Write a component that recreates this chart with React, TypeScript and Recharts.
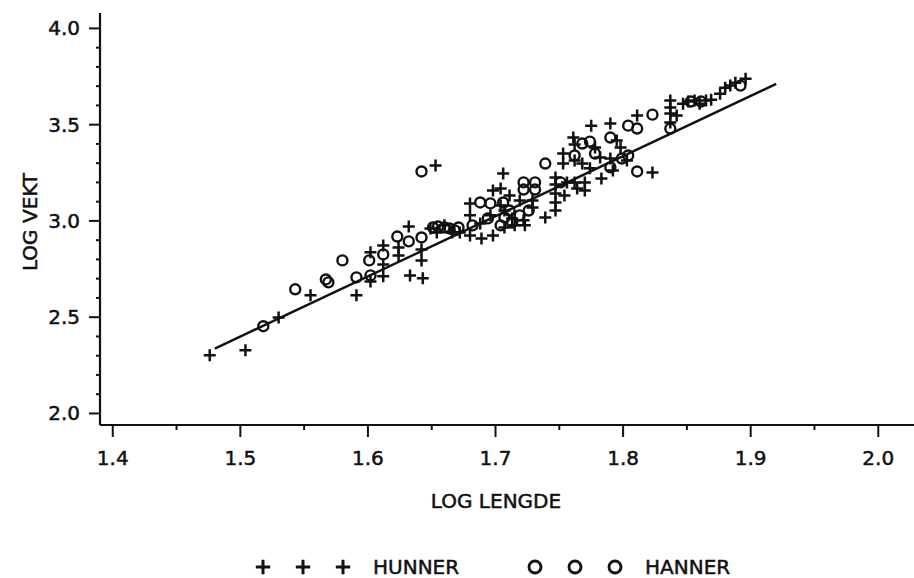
import { ScatterChart, Scatter, XAxis, YAxis, Legend } from "recharts";

// log length / log weight, males (HUNNER) and females (HANNER)
const hunnerLengde = [
  1.476, 1.504, 1.53, 1.555, 1.591, 1.602, 1.602, 1.612, 1.612, 1.612,
  1.624, 1.624, 1.632, 1.633, 1.643, 1.642, 1.642, 1.653, 1.654, 1.672,
  1.68, 1.68, 1.68, 1.688, 1.689, 1.698, 1.698, 1.704, 1.707, 1.706,
  1.711, 1.715, 1.723, 1.729, 1.739, 1.747, 1.747, 1.747, 1.747, 1.747,
  1.754, 1.756, 1.762, 1.77, 1.764, 1.77, 1.753, 1.753, 1.761, 1.762,
  1.762, 1.768, 1.775, 1.79, 1.778, 1.782, 1.79, 1.792, 1.783, 1.795,
  1.798, 1.811, 1.823, 1.837, 1.837, 1.837, 1.842, 1.837, 1.847, 1.851,
  1.856, 1.86, 1.865, 1.869, 1.876, 1.88, 1.884, 1.888, 1.896, 1.719,
  1.707, 1.713, 1.66, 1.666, 1.696, 1.803, 1.774, 1.649, 1.722, 1.729,
  1.704,
];
const hunnerVekt = [
  2.302, 2.328, 2.499, 2.614, 2.614, 2.837, 2.686, 2.873, 2.774, 2.712,
  2.862, 2.821, 2.971, 2.717, 2.702, 2.852, 2.795, 3.288, 2.94, 2.94,
  3.091, 3.029, 2.924, 2.987, 2.909, 3.158, 2.924, 3.168, 2.966, 3.246,
  3.132, 2.977, 2.977, 3.07, 3.018, 3.226, 3.189, 3.143, 3.096, 3.054,
  3.132, 3.2, 3.2, 3.2, 3.168, 3.158, 3.35, 3.298, 3.433, 3.397,
  3.314, 3.298, 3.495, 3.506, 3.381, 3.329, 3.324, 3.262, 3.22, 3.418,
  3.381, 3.547, 3.252, 3.625, 3.589, 3.558, 3.547, 3.511, 3.609, 3.62,
  3.625, 3.609, 3.625, 3.63, 3.661, 3.692, 3.703, 3.718, 3.739, 3.106,
  3.054, 3.013, 2.977, 2.94, 3.029, 3.314, 3.273, 2.961, 3.003, 3.106,
  3.08,
];

const hannerLengde = [
  1.518, 1.543, 1.567, 1.569, 1.58, 1.591, 1.601, 1.602, 1.612, 1.623,
  1.632, 1.642, 1.642, 1.651, 1.66, 1.671, 1.682, 1.688, 1.696, 1.706,
  1.707, 1.704, 1.722, 1.731, 1.722, 1.731, 1.739, 1.751, 1.762, 1.768,
  1.774, 1.778, 1.79, 1.79, 1.799, 1.804, 1.811, 1.804, 1.811, 1.823,
  1.837, 1.861, 1.892, 1.853, 1.711, 1.719, 1.668, 1.655, 1.664, 1.726,
  1.713, 1.694,
];
const hannerVekt = [
  2.453, 2.645, 2.696, 2.681, 2.795, 2.707, 2.795, 2.717, 2.826, 2.919,
  2.894, 2.914, 3.257, 2.966, 2.966, 2.966, 2.977, 3.096, 3.091, 3.096,
  3.018, 2.977, 3.2, 3.2, 3.163, 3.163, 3.298, 3.2, 3.34, 3.402,
  3.412, 3.35, 3.433, 3.278, 3.324, 3.34, 3.257, 3.495, 3.48, 3.552,
  3.48, 3.62, 3.703, 3.62, 3.054, 3.029, 2.951, 2.971, 2.961, 3.054,
  2.992, 3.013,
];

// regression line end points
const fitLengde = [1.48, 1.92];
const fitVekt = [2.337, 3.712];

const seriesNames = ["HUNNER", "HANNER"];

const xTicks = [1.4, 1.45, 1.5, 1.55, 1.6, 1.65, 1.7, 1.75, 1.8, 1.85, 1.9, 1.95, 2.0];
const yTicks = [
  2.0, 2.1, 2.2, 2.3, 2.4, 2.5, 2.6, 2.7, 2.8, 2.9, 3.0,
  3.1, 3.2, 3.3, 3.4, 3.5, 3.6, 3.7, 3.8, 3.9, 4.0,
];

const zip = (xs: number[], ys: number[]) => xs.map((x, i) => ({ x, y: ys[i] }));
const hunner = zip(hunnerLengde, hunnerVekt);
const hanner = zip(hannerLengde, hannerVekt);
const fit = zip(fitLengde, fitVekt);

const FONT = "'DejaVu Sans', Verdana, sans-serif";
const INK = "#111";
const textStyle = { fontFamily: FONT, fontSize: 20, fill: INK, stroke: INK, strokeWidth: 0.5 };

const isStep = (v: number, step: number) =>
  Math.abs(v / step - Math.round(v / step)) < 1e-6;

function XTick({ x, y, payload }: any) {
  const v = payload.value as number;
  const major = isStep(v, 0.1);
  return (
    <g>
      <line x1={x} x2={x} y1={y} y2={y + (major ? 12 : 5)} stroke={INK} strokeWidth={2} />
      {major && (
        <text x={x} y={y + 40} textAnchor="middle" style={textStyle}>
          {v.toFixed(1)}
        </text>
      )}
    </g>
  );
}

function YTick({ x, y, payload }: any) {
  const v = payload.value as number;
  const major = isStep(v, 0.5);
  return (
    <g>
      <line x1={x - (major ? 11 : 4)} x2={x + 1} y1={y} y2={y} stroke={INK} strokeWidth={2} />
      {major && (
        <text x={x - 20} y={y + 7} textAnchor="end" style={textStyle}>
          {v.toFixed(1)}
        </text>
      )}
    </g>
  );
}

function PlusMark({ cx, cy }: any) {
  const a = 6;
  return (
    <path
      d={`M${cx - a},${cy}H${cx + a}M${cx},${cy - a}V${cy + a}`}
      stroke={INK}
      strokeWidth={2.5}
      fill="none"
    />
  );
}

function RingMark({ cx, cy }: any) {
  return <circle cx={cx} cy={cy} r={5} fill="none" stroke={INK} strokeWidth={2.4} />;
}

function XLabel({ viewBox }: any) {
  const vb = viewBox || { x: 100, y: 425, width: 814 };
  return (
    <text x={vb.x + vb.width / 2 - 11} y={vb.y + 83} textAnchor="middle" style={textStyle}>
      LOG LENGDE
    </text>
  );
}

function YLabel({ viewBox }: any) {
  const vb = viewBox || { x: 0, y: 13, height: 412 };
  const cx = vb.x + 30;
  const cy = vb.y + vb.height / 2 + 3;
  return (
    <text
      x={cx}
      y={cy}
      transform={`rotate(-90 ${cx} ${cy})`}
      textAnchor="middle"
      dominantBaseline="central"
      style={textStyle}
    >
      LOG VEKT
    </text>
  );
}

function LegendBody({ payload }: any) {
  const names = (payload || []).map((p: any) => p.value);
  const items = seriesNames.filter((n) => names.length === 0 || names.includes(n));
  return (
    <svg width={914} height={26}>
      {items.map((name, i) => {
        const x0 = 263 + i * 272;
        const Mark = name === "HUNNER" ? PlusMark : RingMark;
        return (
          <g key={name}>
            {[0, 40, 80].map((dx) => (
              <g key={dx} transform={`translate(${x0 + dx},13) scale(1.2)`}>
                <Mark cx={0} cy={0} />
              </g>
            ))}
            <text x={x0 + 110} y={20} style={textStyle}>
              {name}
            </text>
          </g>
        );
      })}
    </svg>
  );
}

export default function App() {
  return (
    <div style={{ position: "absolute", left: 0, top: 0, width: 914, height: 578, background: "#fff" }}>
      <ScatterChart width={914} height={578} margin={{ top: 13, right: 0, bottom: 0, left: 0 }}>
        <XAxis
          type="number"
          dataKey="x"
          domain={[1.39, 2.028]}
          allowDataOverflow
          ticks={xTicks}
          interval={0}
          height={153}
          tickSize={0}
          tickMargin={0}
          tickLine={false}
          tick={<XTick />}
          axisLine={{ stroke: INK, strokeWidth: 2.2 }}
          label={{ content: <XLabel /> }}
        />
        <YAxis
          type="number"
          dataKey="y"
          domain={[1.94, 4.08]}
          allowDataOverflow
          ticks={yTicks}
          interval={0}
          width={100}
          tickSize={0}
          tickMargin={0}
          tickLine={false}
          tick={<YTick />}
          axisLine={{ stroke: INK, strokeWidth: 2.2 }}
          label={{ content: <YLabel /> }}
        />
        <Scatter
          name="fit"
          data={fit}
          legendType="none"
          line={{ stroke: INK, strokeWidth: 2.4 }}
          shape={() => <g />}
          isAnimationActive={false}
        />
        <Scatter name={seriesNames[0]} data={hunner} shape={<PlusMark />} isAnimationActive={false} />
        <Scatter name={seriesNames[1]} data={hanner} shape={<RingMark />} isAnimationActive={false} />
        <Legend
          layout="horizontal"
          verticalAlign="middle"
          align="center"
          content={<LegendBody />}
          wrapperStyle={{ top: 554, left: 0, width: 914, height: 26 }}
        />
      </ScatterChart>
    </div>
  );
}
